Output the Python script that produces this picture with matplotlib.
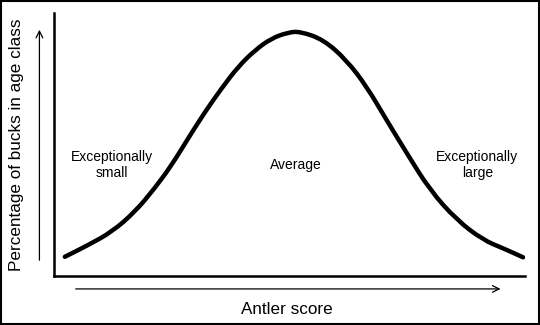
import numpy as np
import matplotlib
matplotlib.use('Agg')
import matplotlib.pyplot as plt
from matplotlib.patches import Rectangle, PathPatch
from matplotlib.path import Path

plt.rcParams['font.family'] = ['Liberation Sans', 'DejaVu Sans']

# antler score (0-100) vs percentage of bucks
score = [2.3, 7.3, 12.3, 17.2, 21.4, 25.0, 28.5, 32.1, 35.6, 39.1, 42.7, 46.2, 49.7, 52.2,
         57.2, 62.1, 66.4, 70.6, 74.9, 79.8, 85.5, 91.1, 95.4, 99.6]
pct = [7.3, 11.8, 16.8, 24.4, 33.4, 42.2, 52.4, 62.5, 71.4, 79.6, 85.9, 90.4, 92.6, 93.0,
       89.9, 82.1, 72.0, 59.3, 46.7, 32.7, 21.3, 13.7, 10.5, 7.1]

labels = ['Exceptionally\nsmall', 'Average', 'Exceptionally\nlarge']
label_x = [12.3, 51.4, 89.9]
label_y = 42.2

fig = plt.figure(figsize=(5.4, 3.25), dpi=100)
ax = fig.add_axes([54/540, 1-276/325, 471/540, 263/325])

# smooth the read points with quadratic bezier segments (control = read point)
pts = np.column_stack([score, pct])
verts = [pts[0], (pts[0] + pts[1]) / 2]
codes = [Path.MOVETO, Path.LINETO]
for i in range(1, len(pts) - 1):
    verts += [pts[i], (pts[i] + pts[i + 1]) / 2]
    codes += [Path.CURVE3, Path.CURVE3]
verts.append(pts[-1])
codes.append(Path.LINETO)
ax.add_patch(PathPatch(Path(verts, codes), fill=False, edgecolor='black', lw=3.2,
                       capstyle='round', joinstyle='round'))

ax.set_xlim(0, 100)
ax.set_ylim(0, 100)
ax.spines['top'].set_visible(False)
ax.spines['right'].set_visible(False)
ax.spines['left'].set_linewidth(1.8)
ax.spines['bottom'].set_linewidth(1.8)
ax.set_xticks([])
ax.set_yticks([])

for t, x in zip(labels, label_x):
    ax.text(x, label_y, t, ha='center', va='center', fontsize=10, linespacing=1.2)

# axis arrows
ax.annotate('', xy=(0.932, 0.111), xytext=(0.135, 0.111), xycoords='figure fraction',
            arrowprops=dict(arrowstyle='->', lw=0.9, color='black', mutation_scale=12))
ax.annotate('', xy=(0.073, 0.917), xytext=(0.073, 0.191), xycoords='figure fraction',
            arrowprops=dict(arrowstyle='->', lw=0.9, color='black', mutation_scale=12))

fig.text(0.031, 0.554, 'Percentage of bucks in age class', rotation=90,
         ha='center', va='center', fontsize=12.3)
fig.text(0.532, 0.049, 'Antler score', ha='center', va='center', fontsize=12.3)

fig.add_artist(Rectangle((0.001, 0.002), 0.997, 0.995, transform=fig.transFigure,
                         fill=False, edgecolor='black', lw=1.5))

fig.savefig('out.png', dpi=100)
